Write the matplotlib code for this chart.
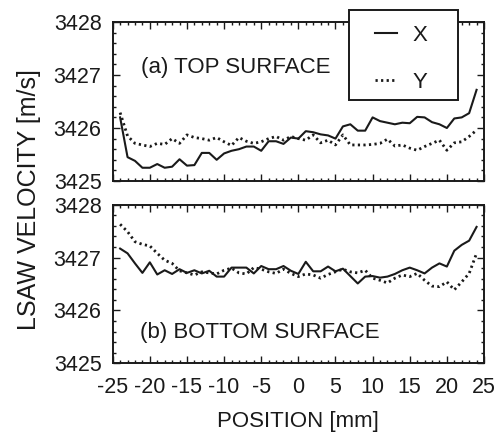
import numpy as np
import matplotlib
matplotlib.use('Agg')
import matplotlib.pyplot as plt
from matplotlib.patches import Rectangle
from matplotlib.ticker import MultipleLocator

plt.rcParams['font.family'] = ['Liberation Sans', 'DejaVu Sans']

# position [mm]
position = np.arange(-24, 25)

# (a) top surface
top_x = [3426.20, 3425.45, 3425.38, 3425.25, 3425.25, 3425.32, 3425.25, 3425.27, 3425.41, 3425.29,
         3425.30, 3425.53, 3425.53, 3425.40, 3425.52, 3425.57, 3425.60, 3425.65, 3425.65, 3425.57,
         3425.75, 3425.75, 3425.70, 3425.82, 3425.80, 3425.94, 3425.92, 3425.88, 3425.86, 3425.80,
         3426.03, 3426.07, 3425.95, 3425.95, 3426.20, 3426.13, 3426.10, 3426.07, 3426.10, 3426.09,
         3426.21, 3426.20, 3426.11, 3426.07, 3426.00, 3426.18, 3426.20, 3426.28, 3426.72]
top_y = [3426.29, 3425.85, 3425.71, 3425.68, 3425.65, 3425.71, 3425.69, 3425.80, 3425.71, 3425.87,
         3425.82, 3425.80, 3425.77, 3425.82, 3425.74, 3425.67, 3425.82, 3425.75, 3425.71, 3425.74,
         3425.80, 3425.84, 3425.77, 3425.84, 3425.80, 3425.77, 3425.87, 3425.72, 3425.77, 3425.68,
         3425.87, 3425.68, 3425.68, 3425.68, 3425.69, 3425.71, 3425.79, 3425.66, 3425.68, 3425.62,
         3425.58, 3425.65, 3425.71, 3425.77, 3425.58, 3425.72, 3425.74, 3425.84, 3425.96]

# (b) bottom surface
bot_x = [3427.17, 3427.08, 3426.89, 3426.71, 3426.91, 3426.68, 3426.76, 3426.69, 3426.78, 3426.71,
         3426.76, 3426.70, 3426.75, 3426.64, 3426.64, 3426.81, 3426.81, 3426.81, 3426.70, 3426.84,
         3426.78, 3426.78, 3426.84, 3426.75, 3426.69, 3426.92, 3426.74, 3426.74, 3426.83, 3426.74,
         3426.79, 3426.65, 3426.51, 3426.64, 3426.65, 3426.62, 3426.64, 3426.69, 3426.76, 3426.81,
         3426.76, 3426.70, 3426.81, 3426.89, 3426.83, 3427.13, 3427.24, 3427.32, 3427.58]
bot_y = [3427.63, 3427.49, 3427.30, 3427.25, 3427.22, 3427.08, 3426.95, 3426.89, 3426.75, 3426.71,
         3426.67, 3426.73, 3426.71, 3426.69, 3426.76, 3426.80, 3426.71, 3426.69, 3426.81, 3426.78,
         3426.73, 3426.70, 3426.78, 3426.70, 3426.64, 3426.69, 3426.67, 3426.61, 3426.68, 3426.73,
         3426.78, 3426.73, 3426.71, 3426.76, 3426.61, 3426.57, 3426.52, 3426.61, 3426.67, 3426.64,
         3426.70, 3426.57, 3426.46, 3426.45, 3426.54, 3426.39, 3426.54, 3426.70, 3427.08]

xticks = [-25, -20, -15, -10, -5, 0, 5, 10, 15, 20, 25]
yticks = [3425, 3426, 3427, 3428]

ink = '#1a1a1a'
W, H = 503, 437
fig = plt.figure(figsize=(W / 100, H / 100), dpi=100)
ax1 = fig.add_axes([112.7 / W, 1 - 181 / H, 371.3 / W, 159 / H])
ax2 = fig.add_axes([112.7 / W, 1 - 363.3 / H, 371.3 / W, 158.6 / H])

for ax, xs, ys in [(ax1, top_x, top_y), (ax2, bot_x, bot_y)]:
    lx, = ax.plot(position, xs, color=ink, lw=1.5, ls='-')
    ly, = ax.plot(position, ys, color=ink, lw=2.0, ls=(0, (0.8, 1.2)))
    ax.set_xlim(-25, 25)
    ax.set_ylim(3425, 3428)
    ax.set_xticks(xticks)
    ax.set_yticks(yticks)
    ax.xaxis.set_minor_locator(MultipleLocator(1))
    ax.yaxis.set_minor_locator(MultipleLocator(0.2))
    ax.tick_params(which='both', direction='in', top=True, right=True,
                   width=1.0, colors=ink, labelsize=15.5)
    ax.tick_params(which='major', length=5)
    ax.tick_params(which='minor', length=2.5)
    ax.tick_params(axis='y', pad=8)
    ax.tick_params(axis='x', pad=10)
    ax.yaxis.set_major_formatter(matplotlib.ticker.FormatStrFormatter('%d'))
    for s in ax.spines.values():
        s.set_linewidth(1.4)
        s.set_color(ink)

ax1.tick_params(labelbottom=False)
ax2.set_xticklabels([str(t) for t in xticks])

ax1.text(-21.2, 3427.15, '(a) TOP SURFACE', fontsize=16, color=ink, va='center')
ax2.text(-21.3, 3425.59, '(b) BOTTOM SURFACE', fontsize=16, color=ink, va='center')

fig.text(29 / W, 1 - 200 / H, 'LSAW VELOCITY [m/s]', rotation=90, fontsize=18,
         color=ink, ha='center', va='center')
fig.text(298 / W, 1 - 422 / H, 'POSITION [mm]', fontsize=16, color=ink,
         ha='center', va='center')

# legend box
box = Rectangle((349 / W, 1 - 100 / H), 109 / W, 90 / H, transform=fig.transFigure,
                facecolor='white', edgecolor=ink, lw=1.4, zorder=5)
fig.patches.append(box)
leg = fig.legend([lx, ly], ['X', 'Y'], loc='upper left',
                 bbox_to_anchor=(375 / W, 1 - 25 / H), frameon=False,
                 fontsize=16, handlelength=1.0, handletextpad=0.7,
                 labelspacing=1.15, borderpad=0, borderaxespad=0)
leg.set_zorder(6)
for t in leg.get_texts():
    t.set_color(ink)

fig.savefig('out.png', dpi=100)
